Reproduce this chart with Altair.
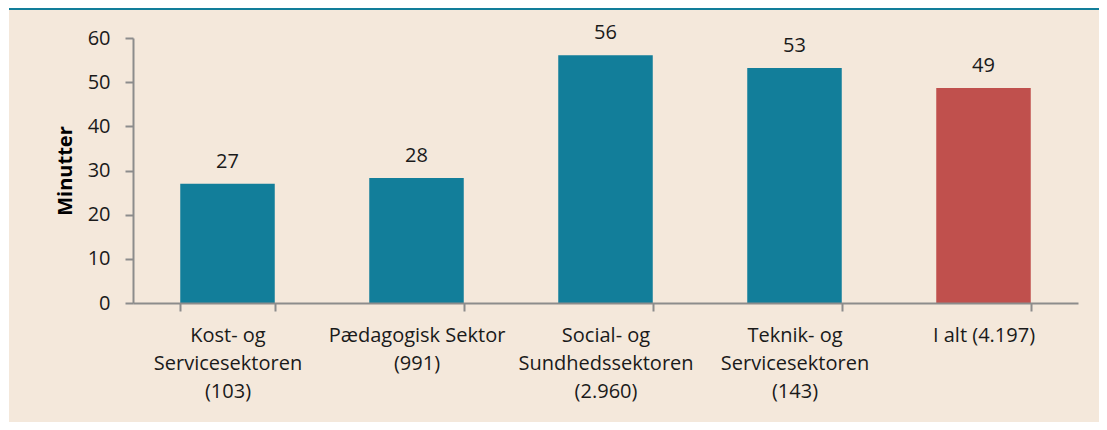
import altair as alt
import pandas as pd

categories = [
    "Kost- og\nServicesektoren\n(103)",
    "Pædagogisk Sektor\n(991)",
    "Social- og\nSundhedssektoren\n(2.960)",
    "Teknik- og\nServicesektoren\n(143)",
    "I alt (4.197)",
]
values = [27.0, 28.3, 56.1, 53.2, 48.7]
labels = ["27", "28", "56", "53", "49"]
bar_colors = ["#127e9a", "#127e9a", "#127e9a", "#127e9a", "#c0504d"]

df = pd.DataFrame({"cat": categories, "val": values, "lbl": labels, "col": bar_colors})

FONT = "Open Sans"
FS = 20
W, H = 945, 265

x_enc = alt.X(
    "cat:N",
    sort=categories,
    scale=alt.Scale(paddingInner=0.5, paddingOuter=0.25),
    axis=alt.Axis(
        title=None,
        labelAngle=0,
        labelExpr="split(datum.label, '\\n')",
        labelLineHeight=28,
        labelFontSize=FS,
        labelFont=FONT,
        labelColor="#1a1a1a",
        labelPadding=14,
        tickBand="extent",
        tickSize=8,
        tickColor="#8c8c8c",
        tickWidth=2,
        domainColor="#8c8c8c",
        domainWidth=2,
        zindex=1,
    ),
)

y_enc = alt.Y(
    "val:Q",
    scale=alt.Scale(domain=[0, 60], nice=False),
    axis=alt.Axis(
        title="Minutter",
        titleFont=FONT,
        titleFontSize=FS,
        titleFontWeight="bold",
        titleColor="#000000",
        titlePadding=12,
        values=[0, 10, 20, 30, 40, 50, 60],
        labelFontSize=FS,
        labelFont=FONT,
        labelColor="#1a1a1a",
        labelPadding=15,
        tickSize=8,
        tickColor="#8c8c8c",
        tickWidth=2,
        domainColor="#8c8c8c",
        domainWidth=2,
        grid=False,
        zindex=1,
    ),
)

panel_df = pd.DataFrame({"p": [0]})
panel = alt.Chart(panel_df).mark_rect(color="#f4e8db").encode(
    x=alt.value(-124), x2=alt.value(W + 40), y=alt.value(-28), y2=alt.value(H + 130)
)
topline = alt.Chart(panel_df).mark_rule(color="#127e9a", strokeWidth=2).encode(
    x=alt.value(-124), x2=alt.value(W + 40), y=alt.value(-29)
)

bars = alt.Chart(df).mark_bar().encode(
    x=x_enc,
    y=y_enc,
    color=alt.Color("col:N", scale=None, legend=None),
)
texts = alt.Chart(df).mark_text(
    baseline="alphabetic", dy=-16, fontSize=FS, font=FONT, color="#1a1a1a"
).encode(
    x=alt.X("cat:N", sort=categories),
    y="val:Q",
    text="lbl:N",
)

chart = alt.layer(panel, topline, bars, texts).properties(
    width=W,
    height=H,
    autosize=alt.AutoSizeParams(type="none"),
    padding={"left": 125, "top": 30, "right": 21, "bottom": 119},
    background="white",
).configure_view(stroke=None)

chart.save("out.html", embed_options={"renderer": "svg", "actions": False})
